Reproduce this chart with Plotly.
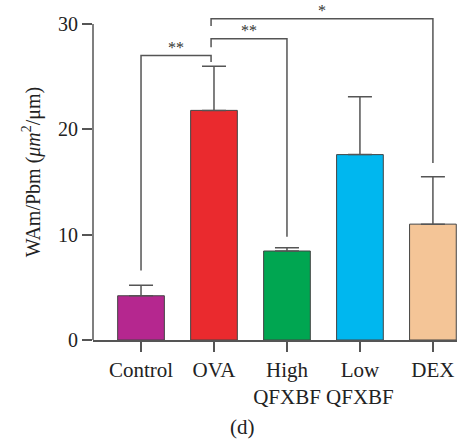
import plotly.graph_objects as go

categories = ["Control", "OVA", "High<br>QFXBF", "Low<br>QFXBF", "DEX"]
means = [4.2, 21.8, 8.45, 17.6, 11.0]
sds = [1.0, 4.2, 0.3, 5.5, 4.5]
colors = ["#B5278F", "#EA2A2E", "#00A651", "#00B7EF", "#F4C597"]

# significance brackets
br_left = [0, 1, 1]
br_right = [1, 2, 4]
br_top = [27.0, 28.6, 30.5]
br_left_bottom = [6.6, 27.8, 29.8]
br_right_bottom = [26.4, 9.8, 16.8]
br_labels = ["**", "**", "*"]

FONT = "Liberation Serif"
GRAY = "#555555"
TEXT = "#222222"

fig = go.Figure()
fig.add_trace(go.Bar(
    x=list(range(len(categories))), y=means,
    marker=dict(color=colors, line=dict(color="#444444", width=1)),
    width=0.64,
    error_y=dict(type="data", array=sds, arrayminus=[0]*len(sds), symmetric=False,
                 color=GRAY, thickness=1.5, width=12),
    showlegend=False,
    hoverinfo="skip",
))

off = 0.04
for l, r, t, lb, rb, lab in zip(br_left, br_right, br_top, br_left_bottom, br_right_bottom, br_labels):
    xl = l - off if l == 1 else l
    xr = r - off if r == 1 else r
    fig.add_shape(type="path",
                  path=f"M {xl},{lb} L {xl},{t} L {xr},{t} L {xr},{rb}",
                  xref="x", yref="y", line=dict(color=GRAY, width=1.5))
    fig.add_annotation(x=(xl + xr) / 2, y=t, text=lab, showarrow=False,
                       xref="x", yref="y", yanchor="bottom", yshift=-2,
                       font=dict(family=FONT, size=16, color="#333333"))

# y axis line only up to 30
fig.add_shape(type="line", xref="paper", yref="y", x0=0, x1=0, y0=0, y1=30,
              line=dict(color=GRAY, width=1.5))

fig.add_annotation(text="(d)", xref="paper", yref="paper", x=0.412, y=-0.259,
                   xanchor="center", yanchor="middle",
                   showarrow=False, font=dict(family=FONT, size=21, color=TEXT))

fig.update_layout(
    width=475, height=445,
    margin=dict(l=93, r=18, t=4, b=105, autoexpand=False),
    plot_bgcolor="white", paper_bgcolor="white",
    font=dict(family=FONT, size=20, color=TEXT),
    xaxis=dict(
        range=[-0.658, 4.33], automargin=False,
        tickvals=list(range(len(categories))), ticktext=categories,
        showline=True, linecolor=GRAY, linewidth=1.5,
        ticks="outside", ticklen=10, tickwidth=1.5, tickcolor=GRAY,
        showgrid=False, zeroline=False,
        tickfont=dict(family=FONT, size=21, color=TEXT),
    ),
    yaxis=dict(
        range=[0, 31.9], automargin=False,
        tickvals=[0, 10, 20, 30],
        showline=False,
        ticks="outside", ticklen=10, tickwidth=1.5, tickcolor=GRAY,
        showgrid=False, zeroline=False,
        tickfont=dict(family=FONT, size=20, color=TEXT),
        title=dict(text="WAm/Pbm (<i>μm</i><sup>2</sup>/μm)",
                   font=dict(family=FONT, size=20, color=TEXT), standoff=12),
    ),
)

fig.write_html("out.html", config={"displayModeBar": False},
               post_script="document.body.style.margin='0';")
